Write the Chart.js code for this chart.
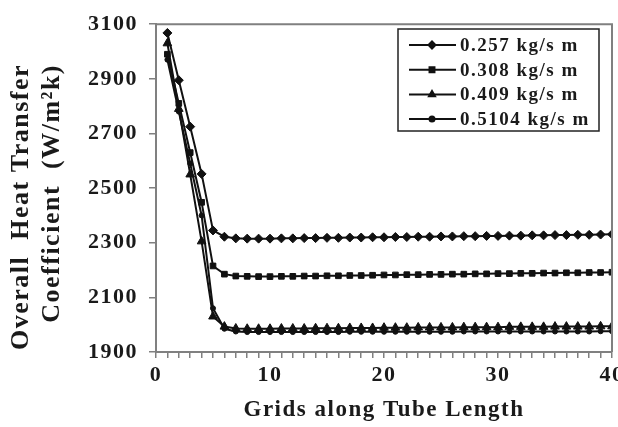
<!DOCTYPE html>
<html>
<head>
<meta charset="utf-8">
<script src="https://cdn.jsdelivr.net/npm/chart.js@4/dist/chart.umd.min.js"></script>
<style>
  html, body { margin: 0; padding: 0; background: #fff; }
  #wrap { width: 618px; height: 427px; }
</style>
</head>
<body>
<div id="wrap"><canvas id="chart" width="618" height="427"></canvas></div>
<script>
// grid positions along the tube
const gridPos = [1, 2, 3, 4, 5, 6, 7, 8, 9, 10, 11, 12, 13, 14, 15, 16, 17, 18, 19, 20,
                 21, 22, 23, 24, 25, 26, 27, 28, 29, 30, 31, 32, 33, 34, 35, 36, 37, 38, 39, 40];

// overall heat transfer coefficient, W/m2k
const u0257 = [3068, 2895, 2725, 2552, 2345, 2322, 2316, 2315, 2315, 2315,
               2316, 2316, 2317, 2317, 2318, 2318, 2319, 2319, 2320, 2320,
               2321, 2321, 2322, 2322, 2323, 2323, 2324, 2324, 2325, 2325,
               2326, 2326, 2327, 2327, 2328, 2328, 2329, 2329, 2330, 2331];
const u0308 = [2990, 2810, 2630, 2448, 2215, 2185, 2178, 2177, 2176, 2176,
               2177, 2177, 2178, 2178, 2179, 2179, 2180, 2180, 2181, 2182,
               2182, 2183, 2183, 2184, 2184, 2185, 2185, 2186, 2186, 2187,
               2187, 2188, 2188, 2189, 2189, 2190, 2190, 2191, 2191, 2192];
const u0409 = [3030, 2790, 2550, 2305, 2030, 1993, 1986, 1985, 1985, 1985,
               1986, 1986, 1986, 1987, 1987, 1987, 1988, 1988, 1988, 1989,
               1989, 1989, 1990, 1990, 1990, 1990, 1991, 1991, 1991, 1991,
               1992, 1992, 1992, 1992, 1993, 1993, 1993, 1993, 1994, 1994];
const u05104 = [2970, 2780, 2590, 2400, 2060, 1985, 1975, 1973, 1973, 1973,
                1973, 1973, 1973, 1973, 1973, 1973, 1974, 1974, 1974, 1974,
                1974, 1974, 1974, 1974, 1974, 1974, 1975, 1975, 1975, 1975,
                1975, 1975, 1975, 1975, 1975, 1975, 1975, 1975, 1976, 1976];

const seriesLabels = ['0.257 kg/s m', '0.308 kg/s m', '0.409 kg/s m', '0.5104 kg/s m'];
const seriesValues = [u0257, u0308, u0409, u05104];
const markerStyles = ['rectRot', 'rect', 'triangle', 'circle'];
const markerSizes = [4.5, 4, 5, 2.5];

const xTicks = [0, 10, 20, 30, 40];
const yMin = 1900, yMax = 3100, yStep = 200;
const yTitleLines = ['Overall  Heat Transfer', 'Coefficient  (W/m\u00b2k)'];

const serif = '"Liberation Serif", "Times New Roman", serif';

const datasets = seriesValues.map((vals, i) => ({
  label: seriesLabels[i],
  data: vals.map((v, j) => ({ x: gridPos[j], y: v })),
  borderColor: '#111',
  backgroundColor: '#111',
  borderWidth: 2,
  pointStyle: markerStyles[i],
  pointRadius: markerSizes[i],
  pointBorderWidth: 1,
  pointBorderColor: '#111',
  pointBackgroundColor: '#111',
  tension: 0
}));

// the scanned figure has wide, loosely spaced lettering
const wideText = {
  id: 'wideText',
  beforeLayout(chart) { chart.ctx.letterSpacing = '1.5px'; },
  beforeDraw(chart) { chart.ctx.letterSpacing = '1.5px'; }
};

// y title: both lines end at the same height, as in the figure
const yTitle = {
  id: 'yTitle',
  afterDraw(chart) {
    const ctx = chart.ctx;
    ctx.save();
    ctx.font = 'bold 26px ' + serif;
    ctx.fillStyle = '#1a1a1a';
    ctx.textAlign = 'right';
    ctx.textBaseline = 'middle';
    [21, 52].forEach((x, i) => {
      ctx.save();
      ctx.translate(x, 64);
      ctx.rotate(-Math.PI / 2);
      ctx.fillText(yTitleLines[i], 0, 0);
      ctx.restore();
    });
    ctx.restore();
  }
};

// plot frame plus the boxed legend in the top right corner
const frameAndLegend = {
  id: 'frameAndLegend',
  afterDatasetsDraw(chart) {
    const { ctx, chartArea: a } = chart;
    ctx.save();
    ctx.strokeStyle = '#808080';
    ctx.lineWidth = 2;
    ctx.beginPath();
    ctx.moveTo(a.left, a.top);
    ctx.lineTo(a.right, a.top);
    ctx.lineTo(a.right, a.bottom);
    ctx.stroke();

    const bx = 398, by = 29, bw = 201, bh = 102;
    ctx.fillStyle = '#fff';
    ctx.fillRect(bx, by, bw, bh);
    ctx.strokeStyle = '#222';
    ctx.lineWidth = 1.5;
    ctx.strokeRect(bx, by, bw, bh);

    ctx.font = 'bold 19px ' + serif;
    ctx.textBaseline = 'middle';
    chart.data.datasets.forEach((ds, i) => {
      const y = by + 16 + i * 24.7;
      ctx.strokeStyle = '#111';
      ctx.lineWidth = 2;
      ctx.beginPath();
      ctx.moveTo(409, y);
      ctx.lineTo(456, y);
      ctx.stroke();
      Chart.helpers.drawPoint(ctx, {
        pointStyle: ds.pointStyle,
        radius: Math.min(ds.pointRadius, 3.5),
        rotation: 0,
        borderWidth: 1
      }, 432, y);
      ctx.fillStyle = '#111';
      ctx.fill();
      ctx.fillStyle = '#1a1a1a';
      ctx.fillText(ds.label, 460, y + 1);
    });
    ctx.restore();
  }
};

new Chart(document.getElementById('chart'), {
  type: 'line',
  data: { datasets },
  plugins: [wideText, frameAndLegend, yTitle],
  options: {
    responsive: false,
    animation: false,
    layout: { padding: { top: 19, right: 5, left: 0, bottom: 0 } },
    plugins: { legend: { display: false }, tooltip: { enabled: false } },
    scales: {
      x: {
        type: 'linear',
        min: 0,
        max: 40,
        afterFit: s => { s.height = 75; s.paddingLeft = 0; s.paddingRight = 0; },
        ticks: {
          stepSize: 1,
          autoSkip: false,
          maxRotation: 0,
          padding: 4,
          color: '#1a1a1a',
          font: { family: serif, size: 22, weight: 'bold' },
          callback: v => (xTicks.includes(v) ? String(v) : '')
        },
        grid: { display: true, drawOnChartArea: false, tickLength: 6, color: '#808080', lineWidth: 1.5 },
        border: { display: true, color: '#808080', width: 2 },
        title: {
          display: true,
          text: 'Grids along Tube Length',
          color: '#1a1a1a',
          font: { family: serif, size: 23, weight: 'bold' },
          padding: { top: 0, bottom: 3 }
        }
      },
      y: {
        min: yMin,
        max: yMax,
        afterFit: s => { s.width = 156; },
        ticks: {
          stepSize: yStep,
          padding: 11,
          color: '#1a1a1a',
          font: { family: serif, size: 22, weight: 'bold' },
          callback: v => String(v)
        },
        grid: { display: true, drawOnChartArea: false, tickLength: 7, color: '#808080', lineWidth: 1.5 },
        border: { display: true, color: '#808080', width: 2 },
        title: { display: false }
      }
    }
  }
});
</script>
</body>
</html>
